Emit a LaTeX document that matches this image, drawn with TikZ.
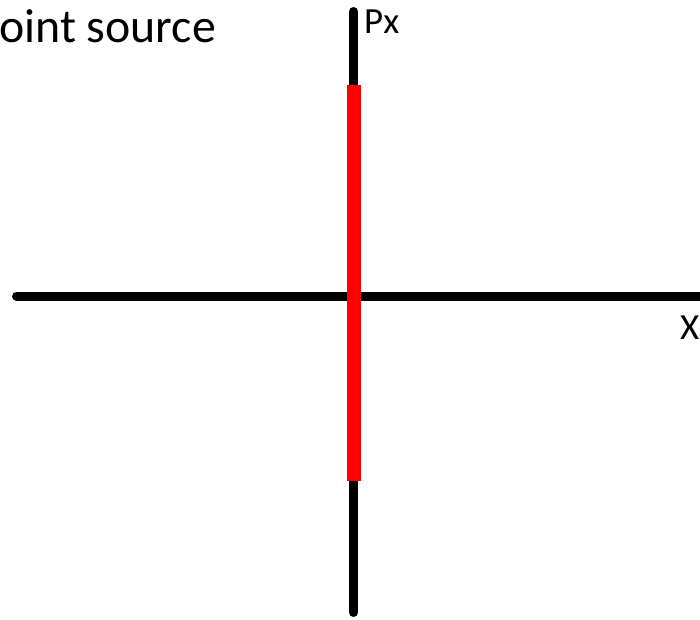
\documentclass[tikz,border=0pt]{standalone}
\usepackage{fontspec}
\setmainfont{Carlito}
\begin{document}
\begin{tikzpicture}[x=1bp,y=-1bp,
  axis/.style={line width=9bp,black,line cap=round},
  redseg/.style={line width=14bp,red,line cap=butt},
  lbl/.style={inner sep=0pt,anchor=base west,text=black}]
\useasboundingbox (0,0) rectangle (700,620);
\clip (0,0) rectangle (700,620);
\fill[white] (0,0) rectangle (700,620);
\coordinate (xl) at (16.5,296);
\coordinate (xr) at (720,296);
\coordinate (yt) at (353.5,11.5);
\coordinate (yb) at (353.5,612.5);
\coordinate (rt) at (354,85);
\coordinate (rb) at (354,481);
\draw[axis] (xl) -- (xr);
\draw[axis] (yt) -- (yb);
\draw[redseg] (rt) -- (rb);
\node[lbl,font=\fontsize{48}{52}\selectfont] (src) at (-1,43) {oint source};
\node[lbl,font=\fontsize{37}{40}\selectfont] (px) at (364,34) {Px};
\node[lbl,font=\fontsize{37}{40}\selectfont] (xx) at (680,339) {X};
\end{tikzpicture}
\end{document}
